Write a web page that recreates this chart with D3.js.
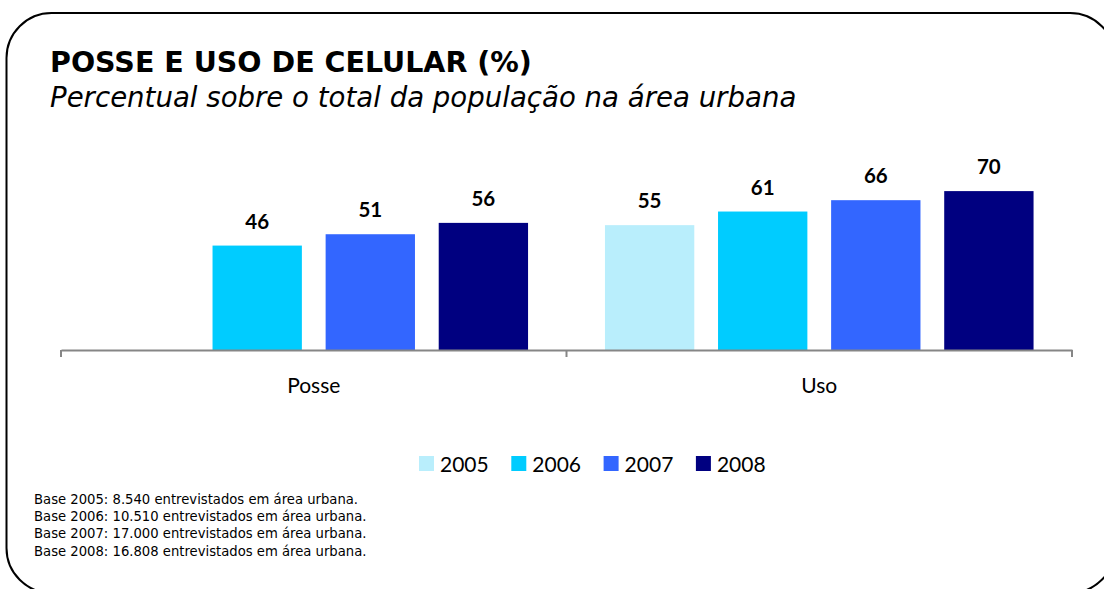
<!DOCTYPE html>
<html><head><meta charset="utf-8">
<script src="https://cdn.jsdelivr.net/npm/d3@7"></script>
<style>
html,body{margin:0;padding:0;background:#fff;}
svg{display:block;}
</style></head>
<body>
<svg id="chart" width="1104" height="589"></svg>
<script>
const categories = ["Posse", "Uso"];
const years = ["2005", "2006", "2007", "2008"];
const posseValues = [null, 46, 51, 56];
const usoValues = [55, 61, 66, 70];
const colors = ["#B9EEFC", "#00CCFF", "#3366FF", "#000080"];
const title = "POSSE E USO DE CELULAR (%)";
const subtitle = "Percentual sobre o total da população na área urbana";
const footnotes = [
  "Base 2005: 8.540 entrevistados em área urbana.",
  "Base 2006: 10.510 entrevistados em área urbana.",
  "Base 2007: 17.000 entrevistados em área urbana.",
  "Base 2008: 16.808 entrevistados em área urbana."
];

const seriesByCat = {"Posse": posseValues, "Uso": usoValues};
const svg = d3.select("#chart");

// frame
svg.append("rect").attr("x", 6.5).attr("y", 13).attr("width", 1108.5).attr("height", 580)
  .attr("rx", 45).attr("ry", 45).attr("fill", "#fff").attr("stroke", "#000").attr("stroke-width", 2);

svg.append("text").attr("x", 50).attr("y", 72).text(title)
  .attr("font-family", "DejaVu Sans").attr("font-weight", "bold").attr("font-size", 28.5).attr("fill", "#000");
svg.append("text").attr("x", 50).attr("y", 107).text(subtitle)
  .attr("font-family", "DejaVu Sans").attr("font-style", "italic").attr("font-size", 27.6).attr("fill", "#000");

const x0 = d3.scaleBand().domain(categories).range([61, 1072]).padding(0);
const x1 = d3.scaleBand().domain(years).range([0, x0.bandwidth()]).paddingInner(0.21).paddingOuter(0.34);
const y = d3.scaleLinear().domain([0, 100]).range([350, 123]);

const groups = svg.selectAll("g.grp").data(categories).join("g")
  .attr("class", "grp").attr("transform", d => `translate(${x0(d)},0)`);

const barData = c => years.map((yr, i) => ({year: yr, i, v: seriesByCat[c][i]})).filter(d => d.v != null);

groups.selectAll("rect").data(c => barData(c)).join("rect")
  .attr("x", d => x1(d.year)).attr("width", x1.bandwidth())
  .attr("y", d => y(d.v)).attr("height", d => y(0) - y(d.v))
  .attr("fill", d => colors[d.i]);

groups.selectAll("text.lbl").data(c => barData(c)).join("text")
  .attr("class", "lbl")
  .attr("x", d => x1(d.year) + x1.bandwidth() / 2).attr("y", d => y(d.v) - 17)
  .attr("text-anchor", "middle").attr("font-family", "Lato").attr("font-weight", "bold")
  .attr("font-size", 20.5).attr("fill", "#000").text(d => d.v);

// axis
const axis = svg.append("g").attr("transform", "translate(0,350)")
  .call(d3.axisBottom(x0).tickSize(0).tickPadding(28));
axis.select(".domain").attr("stroke", "#868686").attr("stroke-width", 2);
axis.selectAll("text").attr("font-family", "Lato").attr("font-size", 21).attr("fill", "#000");
const bounds = [x0(categories[0]), ...categories.map(c => x0(c) + x0.bandwidth())];
axis.selectAll("line.bt").data(bounds).join("line").attr("class", "bt")
  .attr("x1", d => d).attr("x2", d => d).attr("y1", 0).attr("y2", 7)
  .attr("stroke", "#868686").attr("stroke-width", 2);

// legend
const legend = svg.append("g").selectAll("g").data(years).join("g")
  .attr("transform", (d, i) => `translate(${419 + i * 92.3},456)`);
legend.append("rect").attr("width", 15).attr("height", 15).attr("fill", (d, i) => colors[i]);
legend.append("text").attr("x", 21).attr("y", 15.5).text(d => d)
  .attr("font-family", "Lato").attr("font-size", 21).attr("fill", "#000");

// footnotes
svg.append("g").selectAll("text").data(footnotes).join("text")
  .attr("x", 34).attr("y", (d, i) => 504 + i * 17.2).text(d => d)
  .attr("font-family", "DejaVu Sans").attr("font-size", 13.2).attr("fill", "#000");
</script>
</body></html>
